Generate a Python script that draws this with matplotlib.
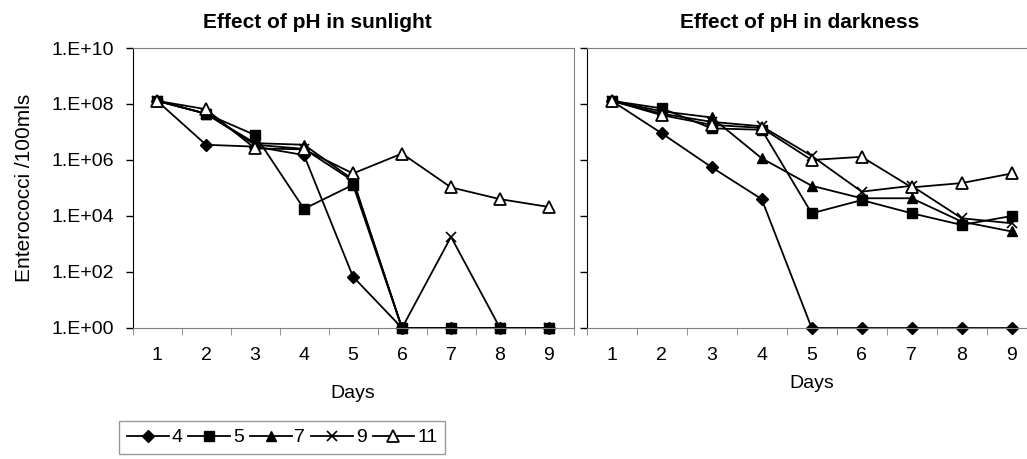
import numpy as np
import matplotlib.pyplot as plt
from matplotlib.lines import Line2D

plt.rcParams['font.family'] = ['Liberation Sans', 'DejaVu Sans']

days = [1, 2, 3, 4, 5, 6, 7, 8, 9]
ph_labels = ["4", "5", "7", "9", "11"]

# Enterococci counts /100mls, sunlight
sun_ph4 = [1.3e8, 3.5e6, 3.0e6, 1.5e6, 68, 1, 1, 1, 1]
sun_ph5 = [1.3e8, 4.5e7, 7.8e6, 1.8e4, 1.3e5, 1, 1, 1, 1]
sun_ph7 = [1.3e8, 4.5e7, 4.0e6, 3.5e6, 2.0e5, 1, 1, 1, 1]
sun_ph9 = [1.3e8, 4.5e7, 3.5e6, 2.5e6, 1.8e5, 1, 1.8e3, 1, 1]
sun_ph11 = [1.3e8, 6.5e7, 2.6e6, 2.4e6, 3.3e5, 1.7e6, 1.05e5, 4.0e4, 2.1e4]

# Enterococci counts /100mls, darkness
dark_ph4 = [1.3e8, 9.0e6, 5.5e5, 4.0e4, 1, 1, 1, 1, 1]
dark_ph5 = [1.3e8, 7.0e7, 1.35e7, 1.2e7, 1.25e4, 3.7e4, 1.25e4, 4.8e3, 1.0e4]
dark_ph7 = [1.3e8, 5.5e7, 3.3e7, 1.15e6, 1.2e5, 4.3e4, 4.3e4, 6.3e3, 2.8e3]
dark_ph9 = [1.3e8, 4.5e7, 2.3e7, 1.6e7, 1.4e6, 7.4e4, 1.2e5, 8.3e3, 5.5e3]
dark_ph11 = [1.3e8, 4.0e7, 1.8e7, 1.4e7, 1.0e6, 1.3e6, 1.05e5, 1.5e5, 3.3e5]

sunlight = [sun_ph4, sun_ph5, sun_ph7, sun_ph9, sun_ph11]
darkness = [dark_ph4, dark_ph5, dark_ph7, dark_ph9, dark_ph11]

styles = [
    dict(marker='D', ms=6, mfc='black'),
    dict(marker='s', ms=6.5, mfc='black'),
    dict(marker='^', ms=7.5, mfc='black'),
    dict(marker='x', ms=7.5, mew=1.2),
    dict(marker='^', ms=8, mfc='white', mew=1.3),
]

W, H = 1027, 459
fig = plt.figure(figsize=(W / 100, H / 100), dpi=100)
ax1 = fig.add_axes([132.5 / W, (H - 328) / H, 441 / W, 280 / H])
ax2 = fig.add_axes([586.7 / W, (H - 328) / H, 450 / W, 280 / H])

yt = [10.0 ** k for k in range(0, 11, 2)]
for ax, data in [(ax1, sunlight), (ax2, darkness)]:
    for vals, st in zip(data, styles):
        ax.plot(days, vals, color='black', lw=1.3, mec='black', clip_on=False, **st)
    ax.set_yscale('log')
    ax.set_ylim(1, 1e10)
    ax.set_xlim(0.5, 9.5)
    ax.set_yticks(yt)
    ax.yaxis.set_minor_locator(plt.NullLocator())
    ax.set_xticks(days)
    ax.set_xticklabels([str(d) for d in days], fontsize=14)
    ax.set_xticks(np.arange(0.5, 10, 1), minor=True)
    ax.tick_params(axis='x', which='major', length=0, pad=14)
    ax.tick_params(axis='x', which='minor', length=5, direction='out', color='#808080')
    ax.tick_params(axis='y', length=5, direction='out', width=1, pad=8)
    for s in ['top', 'right', 'bottom']:
        ax.spines[s].set_color('#808080')
    ax.spines['left'].set_color('black')

ax1.set_yticklabels(['1.E+%02d' % k for k in range(0, 11, 2)], fontsize=14)
ax2.set_yticklabels([])
ax1.set_ylabel('Enterococci /100mls', fontsize=15, va='center')
ax1.yaxis.set_label_coords(-0.245, 0.5)
ax1.set_xlabel('Days', fontsize=14, va='center')
ax1.xaxis.set_label_coords(0.5, -66 / 280)
ax2.set_xlabel('Days', fontsize=14, va='center')
ax2.xaxis.set_label_coords(0.5, -55 / 280)

fig.text(317 / W, 1 - 22 / H, 'Effect of pH in sunlight', fontsize=15, fontweight='bold',
         ha='center', va='center')
fig.text(800 / W, 1 - 22 / H, 'Effect of pH in darkness', fontsize=15, fontweight='bold',
         ha='center', va='center')

handles = [Line2D([], [], color='black', lw=1.3, mec='black', **st) for st in styles]
leg = fig.legend(handles, ph_labels, loc='upper left', bbox_to_anchor=(119 / W, 1 - 421 / H),
                 ncol=5, frameon=True, fancybox=False, fontsize=14, handlelength=2.15,
                 handletextpad=0.15, columnspacing=0.3, borderpad=0.4, borderaxespad=0)
leg.get_frame().set_edgecolor('#808080')
leg.get_frame().set_linewidth(1)

fig.savefig('out.png', dpi=100)
